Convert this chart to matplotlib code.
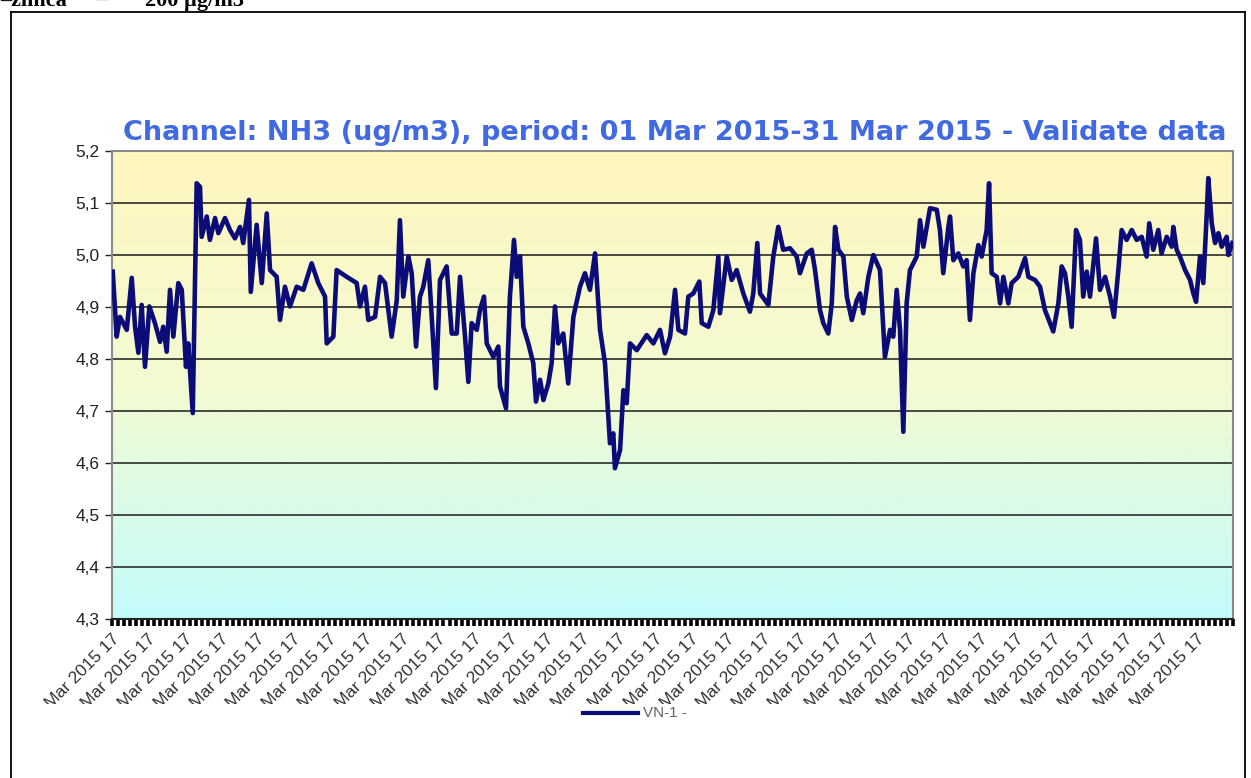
"""NH3 (ug/m3) 2015 年 3 月逐時資料圖（重繪）。"""

import matplotlib

matplotlib.use("Agg")
import matplotlib.pyplot as plt
import numpy as np
from matplotlib.colors import LinearSegmentedColormap
from matplotlib.lines import Line2D
from matplotlib.patches import Rectangle

# 自 3/1 00:00 起算的小時數 與 NH3 濃度
hours = [
    0.5, 3.1, 5.3, 9.8, 13.1, 15.3, 17.5, 19.7, 21.9, 24.8, 28.5, 31.9, 34.0, 36.3, 38.5, 40.7,
    44.0, 46.3, 49.1, 50.6, 53.6, 56.2, 58.4, 59.5, 62.9, 65.0, 68.4, 70.6, 75.0, 78.3, 81.6, 85.0,
    87.1, 90.9, 92.1, 96.0, 99.4, 102.7, 104.9, 109.3, 111.5, 114.8, 118.1, 122.6, 127.0, 132.5,
    136.9, 141.4, 142.5, 146.9, 149.1, 155.8, 162.4, 164.6, 167.9, 170.1, 174.6, 177.9, 181.2,
    185.6, 189.0, 191.1, 193.3, 196.7, 198.9, 201.8, 204.4, 206.6, 209.9, 212.2, 215.0, 217.7,
    222.1, 225.5, 228.8, 231.0, 234.3, 236.5, 238.7, 242.1, 244.2, 246.9, 248.7, 253.1, 256.4,
    257.5, 261.5, 264.1, 266.8, 268.6, 270.8, 273.0, 276.3, 279.6, 281.4, 284.1, 286.3, 289.6,
    291.8, 294.0, 296.2, 299.5, 302.8, 306.2, 310.6, 313.9, 317.2, 320.6, 323.9, 327.2, 330.5,
    332.7, 333.8, 337.2, 339.4, 341.6, 343.8, 348.3, 354.9, 359.3, 363.7, 367.0, 370.4, 373.7,
    375.9, 380.3, 382.5, 385.8, 389.8, 391.4, 395.8, 399.1, 402.4, 403.5, 408.0, 411.3, 414.6,
    419.0, 423.4, 425.6, 428.3, 430.1, 435.6, 438.9, 442.2, 445.5, 450.0, 454.4, 456.6, 461.1,
    464.4, 466.6, 469.9, 472.1, 475.4, 477.7, 479.9, 482.1, 485.4, 487.7, 491.0, 494.3, 496.5,
    498.6, 502.0, 505.3, 509.7, 513.0, 516.4, 518.5, 520.8, 523.0, 525.2, 527.4, 529.6, 534.1,
    536.3, 538.5, 542.9, 547.4, 549.5, 551.7, 555.1, 556.2, 558.4, 561.7, 565.0, 567.2, 569.4,
    571.7, 575.0, 577.2, 580.5, 582.1, 583.8, 587.2, 589.4, 591.6, 594.9, 597.1, 601.5, 606.0,
    608.2, 612.6, 615.9, 619.2, 622.6, 624.7, 628.1, 630.3, 632.5, 634.7, 636.9, 639.8, 642.4,
    644.6, 646.9, 649.1, 653.1, 655.7, 659.1, 662.4, 665.0, 667.9, 670.1, 673.4, 676.8, 680.1,
    683.4, 686.7, 688.4, 691.1, 694.4, 696.6, 700.0, 703.3, 704.4, 706.6, 708.8, 712.2, 715.5,
    717.7, 719.5, 722.1, 724.3, 726.6, 727.6, 729.9, 732.1, 734.3, 736.5, 739.8, 740.9, 743.5,
]
nh3 = [
    4.968, 4.843, 4.881, 4.856, 4.956, 4.862, 4.812, 4.904, 4.785, 4.901, 4.869, 4.833, 4.862, 4.814, 4.933, 4.843,
    4.946, 4.933, 4.785, 4.830, 4.696, 5.138, 5.131, 5.035, 5.074, 5.029, 5.071, 5.042, 5.071, 5.048, 5.032, 5.054,
    5.023, 5.106, 4.929, 5.058, 4.946, 5.080, 4.971, 4.958, 4.875, 4.939, 4.901, 4.939, 4.933, 4.984,
    4.946, 4.920, 4.830, 4.843, 4.971, 4.958, 4.946, 4.901, 4.939, 4.875, 4.881, 4.958, 4.946,
    4.843, 4.913, 5.067, 4.920, 4.997, 4.965, 4.824, 4.920, 4.939, 4.990, 4.881, 4.744, 4.952,
    4.978, 4.849, 4.849, 4.958, 4.843, 4.756, 4.869, 4.856, 4.894, 4.920, 4.830, 4.804, 4.824,
    4.747, 4.705, 4.920, 5.029, 4.958, 4.997, 4.862, 4.830, 4.792, 4.718, 4.760, 4.721, 4.753,
    4.792, 4.901, 4.830, 4.849, 4.753, 4.881, 4.939, 4.965, 4.933, 5.003, 4.856, 4.792, 4.638,
    4.657, 4.590, 4.625, 4.740, 4.715, 4.830, 4.817, 4.846, 4.830, 4.856, 4.811, 4.843, 4.933,
    4.856, 4.849, 4.920, 4.926, 4.949, 4.869, 4.862, 4.894, 4.997, 4.888, 4.997, 4.952, 4.971,
    4.926, 4.891, 4.926, 5.023, 4.926, 4.904, 4.997, 5.054, 5.010, 5.013, 4.997, 4.965, 5.003,
    5.010, 4.971, 4.894, 4.869, 4.849, 4.907, 5.054, 5.010, 4.997, 4.920, 4.875, 4.913, 4.926,
    4.888, 4.958, 5.000, 4.971, 4.804, 4.856, 4.843, 4.933, 4.856, 4.660, 4.907, 4.971, 4.997,
    5.067, 5.016, 5.090, 5.087, 5.048, 4.965, 5.054, 5.074, 4.990, 5.003, 4.978, 4.990, 4.875,
    4.965, 5.019, 4.997, 5.048, 5.138, 4.965, 4.958, 4.907, 4.958, 4.907, 4.946, 4.958, 4.994,
    4.958, 4.952, 4.939, 4.894, 4.869, 4.853, 4.907, 4.978, 4.965, 4.920, 4.862, 5.048, 5.029,
    4.920, 4.968, 4.920, 5.032, 4.933, 4.958, 4.920, 4.881, 4.971, 5.048, 5.029, 5.048, 5.029,
    5.035, 4.997, 5.061, 5.010, 5.048, 5.003, 5.035, 5.016, 5.054, 5.010, 4.997, 4.971, 4.952,
    4.926, 4.910, 4.997, 4.946, 5.080, 5.148, 5.061, 5.023, 5.042, 5.016, 5.035, 5.000, 5.023,
]
days = list(range(1, 32))
y_ticks = [4.3, 4.4, 4.5, 4.6, 4.7, 4.8, 4.9, 5.0, 5.1, 5.2]

TITLE = "Channel: NH3 (ug/m3), period: 01 Mar 2015-31 Mar 2015 - Validate data"
LINE_COLOR = "#0c0c78"
W, H = 1251, 778


def fx(px):
    return px / W


def fy(py):
    return 1 - py / H


fig = plt.figure(figsize=(W / 100, H / 100), dpi=100)
fig.patch.set_facecolor("white")
ax = fig.add_axes([fx(112), fy(619), fx(1233) - fx(112), fy(151) - fy(619)])

# 背景漸層:上淡黃、下淡青
cmap = LinearSegmentedColormap.from_list("bg", ["#fff6bf", "#f3fbd2", "#c3fbfb"])
ax.imshow(np.linspace(0, 1, 256).reshape(-1, 1), aspect="auto", cmap=cmap,
          extent=[0, 744, 4.3, 5.2], origin="upper", zorder=0)

ax.plot(hours, nh3, color=LINE_COLOR, linewidth=3.3, zorder=3, solid_joinstyle="round")

ax.set_xlim(0, 744)
ax.set_ylim(4.3, 5.2)
ax.set_yticks(y_ticks)
ax.set_yticklabels([f"{v:.1f}".replace(".", ",") for v in y_ticks], fontsize=12.5,
                   family="Liberation Sans", color="#222222")
for v in y_ticks[1:-1]:
    ax.axhline(v, color="#1a1a1a", linewidth=1.1, zorder=1)

ax.set_xticks([(d - 1) * 24 for d in days])
ax.set_xticklabels([f"{d:02d} Mar 2015 17" for d in days], rotation=45, ha="right",
                   va="top", rotation_mode="anchor", fontsize=12.5,
                   family="Liberation Sans", color="#333333")
ax.set_xticks(np.arange(0, 745, 4), minor=True)
ax.tick_params(axis="x", which="both", direction="out", length=5, width=2.6, color="black", pad=4)
ax.tick_params(axis="y", direction="out", length=5, width=1, color="#222222", pad=4)

for side in ("left", "top", "right"):
    ax.spines[side].set_color("#8a8a8a")
    ax.spines[side].set_linewidth(1.5)
ax.spines["bottom"].set_color("#222222")
ax.spines["bottom"].set_linewidth(1.5)

fig.text(fx(675), fy(133), TITLE, ha="center", va="center", fontsize=19.5, fontweight="bold",
         family="DejaVu Sans", color="#4169e1")

# 日期標籤下緣被裁切的白色區塊
fig.add_artist(Rectangle((fx(13), 0), fx(1242) - fx(13), fy(704), transform=fig.transFigure,
                         facecolor="white", edgecolor="none", zorder=10))

# 圖例
fig.add_artist(Line2D([fx(583), fx(638)], [fy(713), fy(713)], transform=fig.transFigure,
                      color=LINE_COLOR, linewidth=3, zorder=11))
fig.text(fx(643), fy(713), "VN-1 -", ha="left", va="center", fontsize=11,
         family="Liberation Sans", color="#666666", zorder=11)

# 外框與頁首殘字(原圖即被頁面上緣截斷)
for xs, ys in (([fx(11), fx(11)], [0, fy(12)]), ([fx(11), fx(1245)], [fy(12), fy(12)]),
               ([fx(1245), fx(1245)], [fy(12), 0])):
    fig.add_artist(Line2D(xs, ys, transform=fig.transFigure, color="black", linewidth=1.3, zorder=12))
fig.text(0, fy(6), "–zimca", ha="left", va="baseline", fontsize=16, fontweight="bold",
         family="Liberation Serif")
fig.text(fx(96), fy(6), "–", ha="left", va="baseline", fontsize=16, fontweight="bold",
         family="Liberation Serif")
fig.text(fx(145), fy(6), "200 µg/m3", ha="left", va="baseline", fontsize=16, fontweight="bold",
         family="Liberation Serif")

fig.savefig("out.png", dpi=100)
